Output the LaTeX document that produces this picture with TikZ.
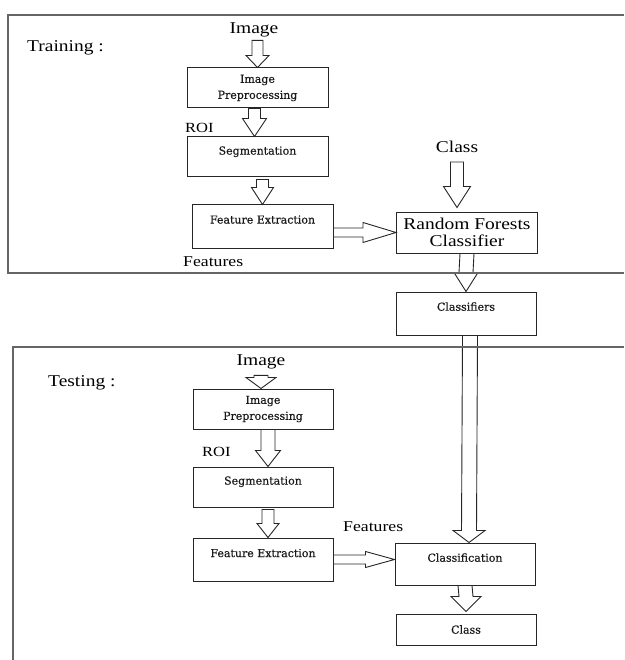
\documentclass[tikz,border=0pt]{standalone}
\usepackage{fontspec}
\setmainfont{Liberation Serif}[FakeStretch=1.18]
\newfontfamily\boxfont{DejaVu Serif}[FakeBold=0.4]
\usetikzlibrary{calc}
\tikzset{
  bshaft/.store in=\bsw, bhead/.store in=\bhw, btip/.store in=\bhl,
  bshaft=6, bhead=11.5, btip=13,
  varrow/.style={draw=black!85, fill=white, line width=0.9pt, line join=miter,
    to path={($(\tikztostart)+(-\bsw,0)$) -- ($(\tikztotarget)+(-\bsw,-\bhl)$)
      -- ($(\tikztotarget)+(-\bhw,-\bhl)$) -- (\tikztotarget)
      -- ($(\tikztotarget)+(\bhw,-\bhl)$) -- ($(\tikztotarget)+(\bsw,-\bhl)$)
      -- ($(\tikztostart)+(\bsw,0)$) -- cycle}},
  harrow/.style={draw=black!85, fill=white, line width=0.9pt, line join=miter,
    to path={($(\tikztostart)+(0,-\bsw)$) -- ($(\tikztotarget)+(-\bhl,-\bsw)$)
      -- ($(\tikztotarget)+(-\bhl,-\bhw)$) -- (\tikztotarget)
      -- ($(\tikztotarget)+(-\bhl,\bhw)$) -- ($(\tikztotarget)+(-\bhl,\bsw)$)
      -- ($(\tikztostart)+(0,\bsw)$) -- cycle}},
  box/.style={draw=black!85, line width=1pt, fill=white, align=center, inner sep=0pt,
    font=\boxfont\fontsize{11}{13}\selectfont, text=black!90},
  big/.style={inner sep=0pt, font=\fontsize{16.5}{19}\selectfont, text=black},
  frame/.style={draw=black!60, line width=1.6pt}
}
\begin{document}
\begin{tikzpicture}[x=1pt,y=-1pt]
\useasboundingbox (0,0) rectangle (624,660);
\fill[white] (0,0) rectangle (624,660);

% ---------- Training ----------
\node[big, anchor=west] (train) at (27,48) {Training :};
\node[big] (img1) at (254,30) {Image};
\node[box, minimum width=141pt, minimum height=40pt] (ip1) at (257.5,88) {Image\\[3pt]Preprocessing};
\node[big, anchor=west, font=\fontsize{14}{16}\selectfont] (roi1) at (185,128) {ROI};
\node[box, minimum width=141pt, minimum height=40pt] (seg1) at (257.5,157) {Segmentation\\\mbox{}};
\node[box, minimum width=141pt, minimum height=43pt] (fe1) at (262.5,226.5) {Feature Extraction\\[1pt]\mbox{}};
\node[big, anchor=west, font=\fontsize{15}{17}\selectfont] (feat1) at (183,262) {Features};
\node[big] (class1) at (457,147) {Class};
\node[box, font=\fontsize{16.5}{17}\selectfont, text=black, minimum width=141pt, minimum height=41pt] (rfc) at (467,232.5) {Random Forests\\Classifier};
\node[box, minimum width=140pt, minimum height=43pt] (clf) at (466,313.5) {Classifiers\\[1pt]\mbox{}};

% ---------- Testing ----------
\node[big, anchor=west] (test) at (48,383) {Testing :};
\node[big] (img2) at (261,362) {Image};
\node[box, minimum width=140pt, minimum height=40pt] (ip2) at (263,409) {Image\\[3pt]Preprocessing};
\node[big, anchor=west, font=\fontsize{14}{16}\selectfont] (roi2) at (202,452) {ROI};
\node[box, minimum width=140pt, minimum height=40pt] (seg2) at (263,487) {Segmentation\\\mbox{}};
\node[box, minimum width=140pt, minimum height=43pt] (fe2) at (263,559.5) {Feature Extraction\\\mbox{}};
\node[big, anchor=west, font=\fontsize{15}{17}\selectfont] (feat2) at (343,527) {Features};
\node[box, minimum width=140pt, minimum height=42pt] (cls) at (465,564) {Classification\\\mbox{}};
\node[box, minimum width=140pt, minimum height=31pt] (class2) at (466,629.5) {Class};

% ---------- arrows ----------
\draw[varrow, bshaft=5.5, bhead=11.5, btip=12] ([yshift=-3pt]img1.south -| ip1.north) to (ip1.north);
\draw[varrow, bshaft=6, bhead=12, btip=18] ([xshift=-3pt]ip1.south) to ([xshift=-3pt]seg1.north);
\draw[varrow, bshaft=6, bhead=11, btip=17] ([yshift=-2pt]seg1.south -| fe1.north) to (fe1.north);
\draw[harrow, bshaft=4.5, bhead=10, btip=33] (fe1.east |- rfc.west) to (rfc.west);
\draw[varrow, bshaft=6.5, bhead=13.5, btip=21] ([yshift=-9pt]class1.south) to ([yshift=4pt]class1.south |- rfc.north);
\draw[varrow, bshaft=7, bhead=12, btip=19] (rfc.south) to (clf.north);
\draw[varrow, bshaft=7.5, bhead=16, btip=12] ([xshift=4pt]clf.south) to ([xshift=4pt]cls.north);
\draw[varrow, bshaft=7, bhead=15, btip=15] (cls.south) to ([yshift=2pt]class2.north);

\draw[varrow, bshaft=7, bhead=15, btip=11] ([yshift=-6pt]img2.south) to (img2.south |- ip2.north);
\draw[varrow, bshaft=7, bhead=12.5, btip=16] ([xshift=5pt]ip2.south) to ([xshift=5pt]seg2.north);
\draw[varrow, bshaft=6, bhead=11, btip=14] ([xshift=5pt,yshift=-2pt]seg2.south) to ([xshift=5pt]fe2.north);
\draw[harrow, bshaft=4.5, bhead=8, btip=29] (fe2.east) to (fe2.east -| cls.west);

% ---------- frames ----------
\draw[frame] (624,15) -- (8,15) -- (8,273) -- (624,273);
\draw[frame] (624,347) -- (13,347) -- (13,660);
\end{tikzpicture}
\end{document}
